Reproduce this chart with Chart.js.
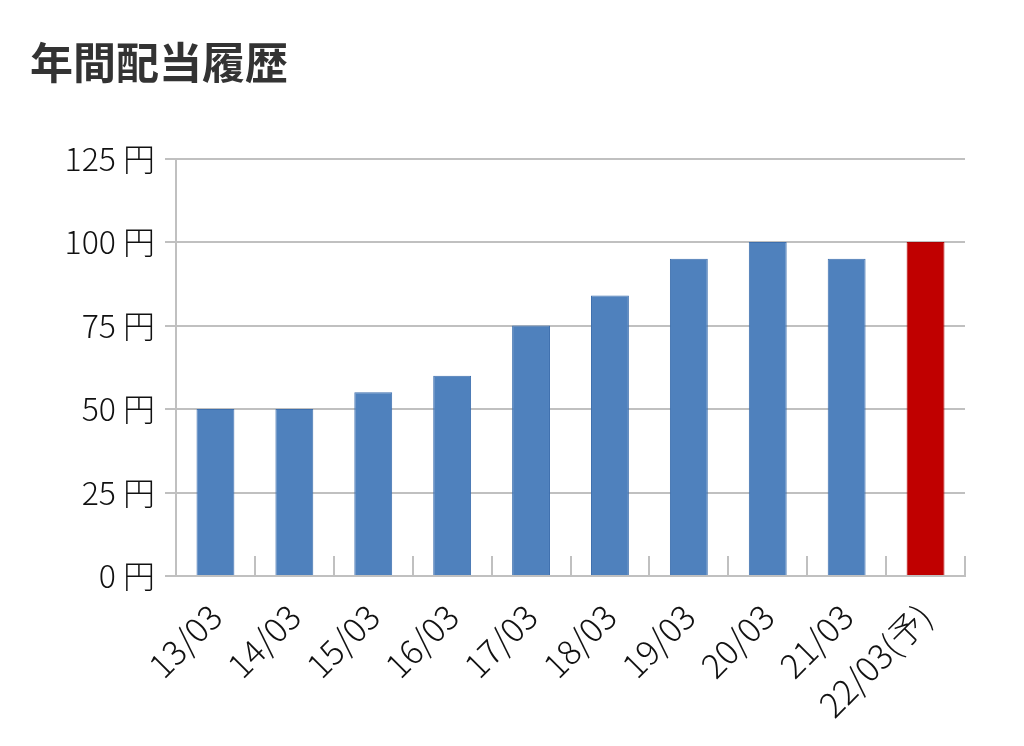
<!DOCTYPE html>
<html>
<head>
<meta charset="utf-8">
<title>年間配当履歴</title>
<script src="https://cdn.jsdelivr.net/npm/chart.js@4/dist/chart.umd.min.js"></script>
<style>
  body { margin: 0; background: #fff; }
  #wrap { width: 1024px; height: 746px; }
</style>
</head>
<body>
<div id="wrap"><canvas id="barChart" width="1024" height="746"></canvas></div>
<script>
// 決算期 (年/月)
var periods = ['13/03', '14/03', '15/03', '16/03', '17/03', '18/03', '19/03', '20/03', '21/03', '22/03(予)'];
// 年間配当 (円)
var dividends = [50, 50, 55, 60, 75, 84, 95, 100, 95, 100];
var yTicks = [0, 25, 50, 75, 100, 125];

var gridColor = '#c0c0c0';
var fontFamily = '"Noto Sans CJK JP", "Noto Sans", sans-serif';

function barColor(ctx) {
  // 予想値だけ赤
  return periods[ctx.dataIndex].indexOf('予') >= 0 ? '#c00000' : '#4f81bd';
}
function barBorder(ctx) {
  return periods[ctx.dataIndex].indexOf('予') >= 0 ? '#b00000' : '#3d6fae';
}

var ctx = document.getElementById('barChart').getContext('2d');
var chart = new Chart(ctx, {
  type: 'bar',
  data: {
    labels: periods,
    datasets: [{
      label: '年間配当',
      data: dividends,
      backgroundColor: barColor,
      borderColor: barBorder,
      borderWidth: 1,
      barPercentage: 0.48,
      categoryPercentage: 1.0
    }]
  },
  options: {
    responsive: false,
    animation: false,
    layout: {
      padding: { left: 30, right: 59, top: 0, bottom: 0 }
    },
    plugins: {
      legend: { display: false },
      tooltip: { enabled: false },
      title: {
        display: true,
        text: '年間配当履歴',
        align: 'start',
        color: '#333333',
        font: { family: fontFamily, size: 43, weight: 'bold', lineHeight: 1.2 },
        padding: { top: 37, bottom: 70 }
      }
    },
    scales: {
      x: {
        offset: true,
        grid: {
          offset: true,
          drawOnChartArea: false,
          color: gridColor,
          lineWidth: 2,
          tickLength: -20
        },
        border: { display: true, color: gridColor, width: 2 },
        ticks: {
          color: '#111111',
          font: { family: fontFamily, size: 34, weight: 300 },
          minRotation: 45,
          maxRotation: 45,
          padding: 40
        },
        afterFit: function (scale) { scale.height = 170; }
      },
      y: {
        min: 0,
        max: 125,
        afterBuildTicks: function (scale) {
          scale.ticks = yTicks.map(function (v) { return { value: v }; });
        },
        grid: {
          color: gridColor,
          lineWidth: 2,
          tickLength: 11
        },
        border: { display: true, color: gridColor, width: 2 },
        ticks: {
          color: '#111111',
          font: { family: fontFamily, size: 32, weight: 300 },
          padding: 10,
          callback: function (value) { return value + ' 円'; }
        },
        afterFit: function (scale) { scale.width = 146; }
      }
    }
  }
});
</script>
</body>
</html>
